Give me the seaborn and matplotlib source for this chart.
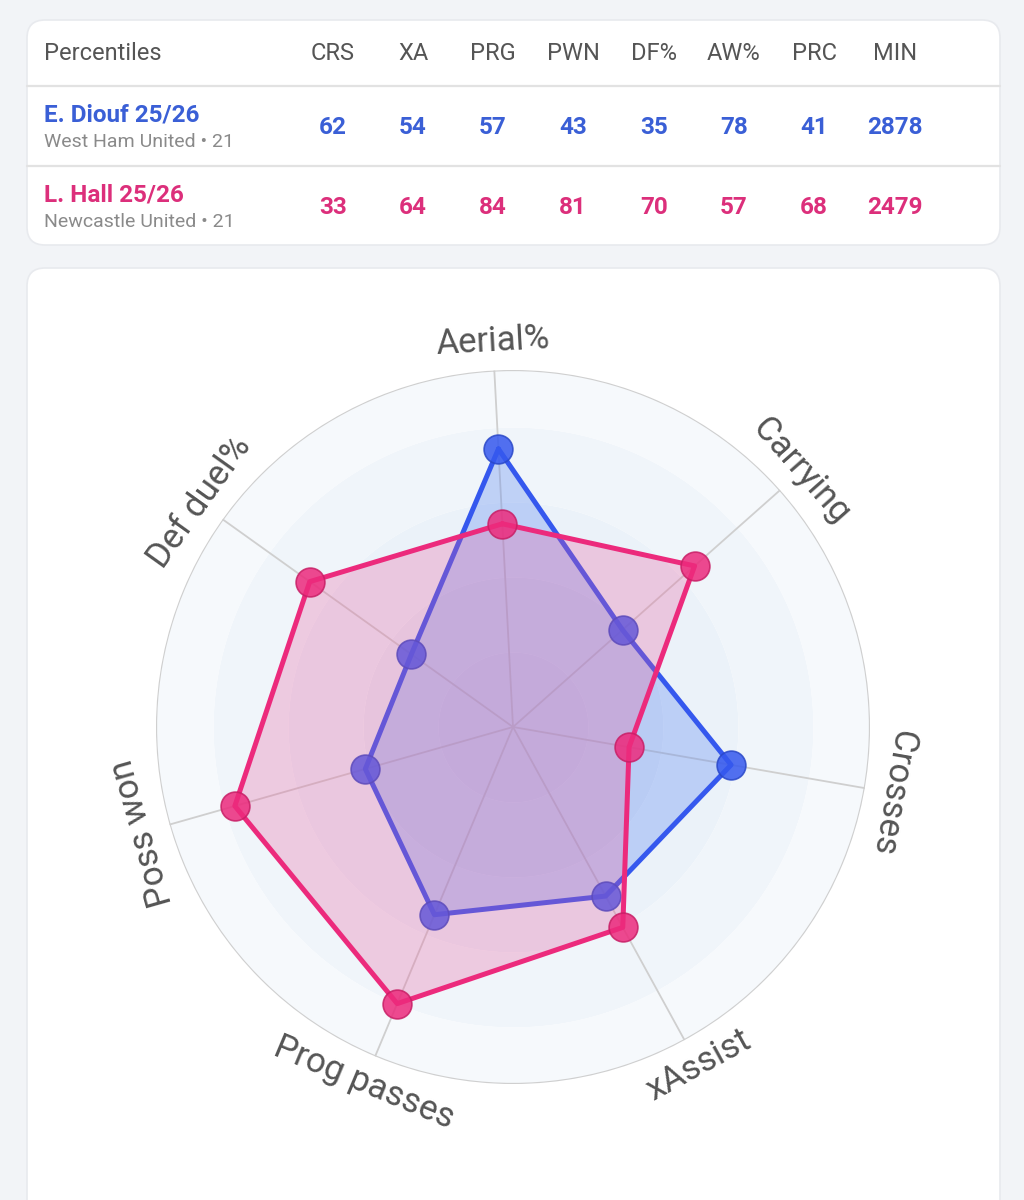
import numpy as np
import pandas as pd
import matplotlib
matplotlib.use("Agg")
import matplotlib.pyplot as plt
from matplotlib.patches import FancyBboxPatch
import seaborn as sns

# ---- data ----
stat_codes = ["CRS", "XA", "PRG", "PWN", "DF%", "AW%", "PRC"]
player_names = ["E. Diouf 25/26", "L. Hall 25/26"]
player_clubs = ["West Ham United • 21", "Newcastle United • 21"]
diouf_pct = [62, 54, 57, 43, 35, 78, 41]
hall_pct = [33, 64, 84, 81, 70, 57, 68]
minutes = [2878, 2479]

radar_labels = ["Aerial%", "Carrying", "Crosses", "xAssist", "Prog passes", "Poss won", "Def duel%"]
radar_codes = ["AW%", "PRC", "CRS", "XA", "PRG", "PWN", "DF%"]

BLUE = "#3558ee"
BLUE_TXT = "#3a5fd6"
PINK = "#ec2a7c"
PINK_TXT = "#dc2f7b"
GREY_TXT = "#555555"

sns.set_theme(style="white")
plt.rcParams["font.family"] = ["Roboto", "DejaVu Sans"]

fig = plt.figure(figsize=(10.24, 12), dpi=100)
fig.patch.set_facecolor("#f2f4f7")

# background axes in pixel coordinates
bg = fig.add_axes([0, 0, 1, 1])
bg.set_xlim(0, 1024)
bg.set_ylim(1200, 0)
bg.axis("off")

for (x0, y0, w, h) in [(27, 20, 973, 225), (27, 268, 973, 960)]:
    bg.add_patch(FancyBboxPatch((x0, y0), w, h, boxstyle="round,pad=0,rounding_size=18",
                                facecolor="white", edgecolor="#e8eaee", linewidth=1.2))

# ---- table ----
col_x = [333, 413, 493, 573, 654, 734, 814, 895]
bg.text(44, 53, "Percentiles", fontsize=17, color=GREY_TXT, va="center", ha="left")
for code, x in zip(stat_codes + ["MIN"], col_x):
    bg.text(x, 53, code, fontsize=17, color=GREY_TXT, va="center", ha="center")

for y in [86, 166]:
    bg.plot([27, 1000], [y, y], color="#e2e2e2", linewidth=1.6)

rows = [(diouf_pct, BLUE_TXT, 115), (hall_pct, PINK_TXT, 195)]
for i, (vals, col, y) in enumerate(rows):
    bg.text(44, y, player_names[i], fontsize=17.5, fontweight="bold", color=col, va="center", ha="left")
    bg.text(44, y + 27, player_clubs[i], fontsize=14, color="#8a8a8a", va="center", ha="left")
    for v, x in zip(vals + [minutes[i]], col_x):
        bg.text(x, y + 12, str(v), fontsize=17.5, fontweight="bold", color=col, va="center", ha="center")

# ---- radar ----
cx, cy, R = 513, 727, 357
ax = fig.add_axes([(cx - R) / 1024, (1200 - cy - R) / 1200, 2 * R / 1024, 2 * R / 1200],
                  projection="polar")
ax.set_theta_offset(np.deg2rad(93))
ax.set_theta_direction(-1)
ax.set_ylim(0, 100)
ax.patch.set_alpha(0)
ax.grid(False)
ax.set_xticks([])
ax.set_yticks([])
ax.spines["polar"].set_visible(False)

n = len(radar_labels)
theta = np.arange(n) * 2 * np.pi / n
ring = np.linspace(0, 2 * np.pi, 361)

band_edges = [0, 21, 42, 63, 84, 100]
band_colors = ["#e3ebf5", "#e7eef7", "#ebf2f9", "#f0f5fa", "#f6f9fc"]
for r0, r1, c in zip(band_edges[:-1], band_edges[1:], band_colors):
    ax.fill_between(ring, r0, r1, color=c, linewidth=0, zorder=0)
ax.plot(ring, np.full_like(ring, 100), color="#cfcfcf", linewidth=1.6, zorder=1)
for t in theta:
    ax.plot([t, t], [0, 100], color="#cfcfcf", linewidth=1.3, zorder=1)

diouf_map = dict(zip(stat_codes, diouf_pct))
hall_map = dict(zip(stat_codes, hall_pct))

for vals_map, line_col, fill_col, edge_col, fill_alpha, z in [
    (diouf_map, BLUE, "#5a86f0", "#2a48c8", 0.32, 2),
    (hall_map, PINK, "#e8569a", "#c81f66", 0.27, 5),
]:
    r = [vals_map[c] for c in radar_codes]
    df = pd.DataFrame({"theta": list(theta) + [2 * np.pi], "r": r + [r[0]]})
    ax.fill(df["theta"], df["r"], color=fill_col, alpha=fill_alpha, linewidth=0, zorder=z)
    sns.lineplot(data=df, x="theta", y="r", ax=ax, sort=False, estimator=None,
                 color=line_col, linewidth=3.6, zorder=z + 1)
    sns.scatterplot(data=df.iloc[:-1], x="theta", y="r", ax=ax, s=430,
                    color=line_col, edgecolor=edge_col, linewidth=1.2, alpha=0.85, zorder=z + 2)

ax.set_xlabel("")
ax.set_ylabel("")

for t, lab in zip(theta, radar_labels):
    screen = 93 - np.rad2deg(t)
    rot = (screen - 90 + 180) % 360 - 180
    if abs(rot) > 120:
        rot = (rot + 360) % 360 - 180
    ax.text(t, 108, lab, rotation=rot, rotation_mode="anchor", ha="center", va="center",
            fontsize=25, color=GREY_TXT, clip_on=False)

fig.savefig("out.png", dpi=100, facecolor=fig.get_facecolor())
